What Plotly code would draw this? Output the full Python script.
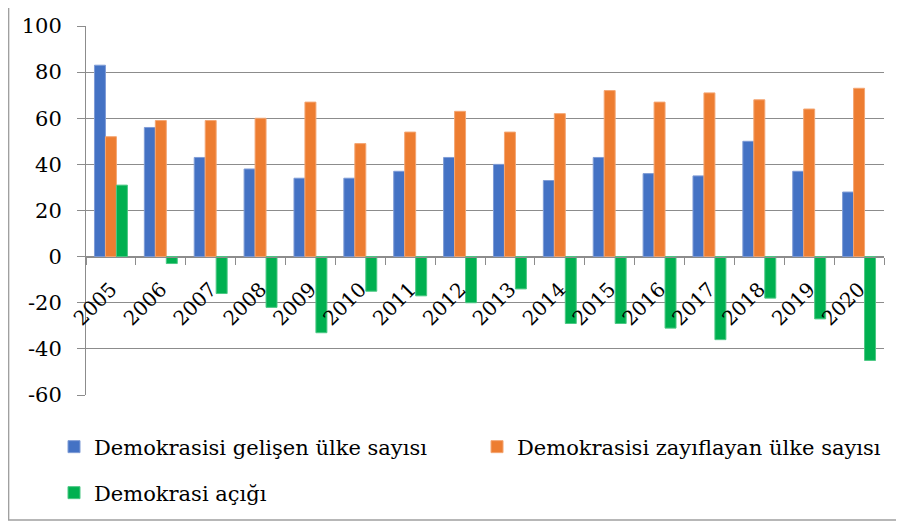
import plotly.graph_objects as go

YEARS = ["2005", "2006", "2007", "2008", "2009", "2010", "2011", "2012",
         "2013", "2014", "2015", "2016", "2017", "2018", "2019", "2020"]
GELISEN = [83, 56, 43, 38, 34, 34, 37, 43, 40, 33, 43, 36, 35, 50, 37, 28]
ZAYIFLAYAN = [52, 59, 59, 60, 67, 49, 54, 63, 54, 62, 72, 67, 71, 68, 64, 73]
ACIK = [31, -3, -16, -22, -33, -15, -17, -20, -14, -29, -29, -31, -36, -18, -27, -45]
Y_TICKS = [-60, -40, -20, 0, 20, 40, 60, 80, 100]

NAMES = ["Demokrasisi gelişen ülke sayısı",
         "Demokrasisi zayıflayan ülke sayısı",
         "Demokrasi açığı"]
COLORS = ["#4472C4", "#ED7D31", "#00B050"]
EDGES = ["#7F9CD6", "#F4A673", "#4CC884"]

FONT = "DejaVu Serif"
GRID = "#8C8C8C"

# page has an 8px body margin, so the figure is 888x513 and shifted by 8px
W, H = 888, 513


def leg(x, y_page):
    return dict(orientation="h", xref="paper", yref="container",
                x=x, y=1 - (y_page - 8) / H, xanchor="left", yanchor="middle",
                font=dict(family=FONT, size=21, color="black"), itemwidth=30,
                bgcolor="rgba(0,0,0,0)")


fig = go.Figure()
for vals, name, col, edge, lg in zip([GELISEN, ZAYIFLAYAN, ACIK], NAMES, COLORS, EDGES,
                                     ["legend", "legend2", "legend3"]):
    fig.add_trace(go.Bar(x=YEARS, y=vals, name=name, legend=lg, showlegend=True,
                         marker=dict(color=col, line=dict(color=edge, width=1))))

fig.update_layout(
    width=W, height=H, showlegend=True,
    margin=dict(l=78, r=12, t=18, b=126, autoexpand=False),
    paper_bgcolor="white", plot_bgcolor="white",
    font=dict(family=FONT, size=21, color="black"),
    barmode="group", bargap=0.34, bargroupgap=0,
    legend=leg(-0.0401, 447),
    legend2=leg(0.49, 447),
    legend3=leg(-0.0401, 493),
    shapes=[dict(type="rect", xref="paper", yref="paper", x0=-0.097, x1=1.2,
                 y0=-(512 - 387) / 369, y1=1.3, line=dict(color="#A0A0A0", width=1.5),
                 layer="below")],
)

fig.update_xaxes(anchor="free", position=0.375, showgrid=False,
                 showline=True, linecolor=GRID, linewidth=1,
                 ticks="outside", tickson="boundaries", ticklen=7, tickcolor=GRID,
                 tickangle=-45, ticklabelstandoff=12, tickfont=dict(family=FONT, size=20))
fig.update_yaxes(range=[-60, 100], tickvals=Y_TICKS, ticktext=[str(v) for v in Y_TICKS],
                 showgrid=True, gridcolor=GRID, gridwidth=1,
                 zeroline=False, showline=True, linecolor=GRID, linewidth=1,
                 ticks="outside", ticklen=8, tickcolor=GRID, ticklabelstandoff=11,
                 tickfont=dict(family=FONT, size=21))

fig.write_html("out.html")
